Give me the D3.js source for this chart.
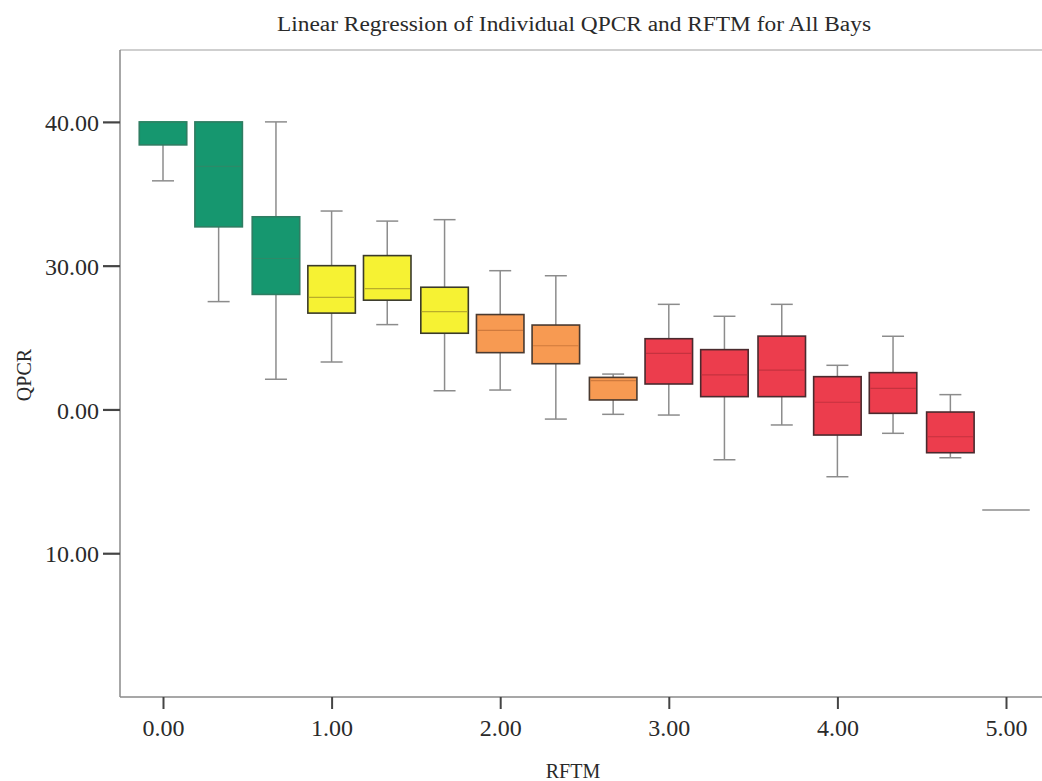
<!DOCTYPE html>
<html>
<head>
<meta charset="utf-8">
<script src="https://cdn.jsdelivr.net/npm/d3@7/dist/d3.min.js"></script>
<style>
  html, body { margin: 0; padding: 0; background: #ffffff; }
  svg { display: block; }
  text { font-family: "Liberation Serif", "DejaVu Serif", serif; fill: #2a2a2a; }
</style>
</head>
<body>
<svg id="chart" width="1042" height="781"></svg>
<script>
// RFTM category for each box
const rftm = [0.00, 0.33, 0.67, 1.00, 1.33, 1.67, 2.00, 2.33, 2.67, 3.00, 3.33, 3.67, 4.00, 4.33, 4.67, 5.00];
// QPCR five-number summaries per RFTM category
const qMin    = [35.9, 27.5, 22.1, 23.3, 25.9, 21.3, 21.35, 19.33, 19.66, 19.61, 16.5, 18.92, 15.32, 18.34, 16.64, 13.0];
const qQ1     = [38.4, 32.7, 28.0, 26.7, 27.6, 25.3, 23.95, 23.18, 20.66, 21.77, 20.89, 20.89, 18.22, 19.73, 16.99, 13.0];
const qMedian = [40.0, 36.9, 30.5, 27.8, 28.4, 26.8, 25.5, 24.43, 22.0, 23.9, 22.4, 22.74, 20.5, 21.47, 18.1, 13.0];
const qQ3     = [40.0, 40.0, 33.4, 30.0, 30.7, 28.5, 26.6, 25.87, 22.23, 24.92, 24.16, 25.1, 22.28, 22.56, 19.82, 13.0];
const qMax    = [40.0, 40.0, 40.0, 33.8, 33.1, 33.2, 29.65, 29.3, 22.46, 27.31, 26.48, 27.31, 23.07, 25.09, 21.03, 13.0];
// colour group of each box
const group   = ["g","g","g","y","y","y","o","o","o","r","r","r","r","r","r","n"];

// axis ticks and their printed labels
const xTicks = [0, 1, 2, 3, 4, 5];
const xTickLabels = ["0.00", "1.00", "2.00", "3.00", "4.00", "5.00"];
const yTicks = [10, 20, 30, 40];
const yTickLabels = ["10.00", "0.00", "30.00", "40.00"];

const fills   = { g: "#16976f", y: "#f6f233", o: "#f79a52", r: "#ec3d4d" };
const strokes = { g: "#2f7d62", y: "#3a3a2a", o: "#4a3a30", r: "#4a2a2e" };
const medians = { g: "#2c8a68", y: "#b9ad2a", o: "#cf7a3d", r: "#c5323f" };

const svg = d3.select("#chart");
const plotL = 120, plotT = 50, plotB = 697, plotR = 1042;

const x = d3.scaleLinear().domain([0, 5]).range([163, 1006]);
const y = d3.scaleLinear().domain([0, 45]).range([plotB, plotT]);
const boxW = 47.5, capW = 22;

// title
svg.append("text")
  .attr("x", 574).attr("y", 31)
  .attr("text-anchor", "middle")
  .attr("font-size", 20)
  .attr("textLength", 594).attr("lengthAdjust", "spacingAndGlyphs")
  .text("Linear Regression of Individual QPCR and RFTM for All Bays");

// frame line along the top
svg.append("line").attr("x1", plotL).attr("x2", plotR).attr("y1", plotT).attr("y2", plotT)
  .attr("stroke", "#a0a0a0").attr("stroke-width", 1.2);

// y axis
const yAxis = d3.axisLeft(y).tickValues(yTicks)
  .tickFormat((d, i) => yTickLabels[i]).tickSize(17).tickPadding(4);
const gy = svg.append("g").attr("transform", `translate(${plotL},0)`).call(yAxis);
gy.select(".domain").attr("d", `M0,${plotT}V${plotB}`).attr("stroke", "#8a8a8a").attr("stroke-width", 1.5);
gy.selectAll(".tick line").attr("stroke", "#444").attr("stroke-width", 2.2);
gy.selectAll(".tick text").attr("font-size", 24).attr("font-family", "Liberation Serif, serif")
  .attr("fill", "#2a2a2a").attr("dy", "0.36em");

// x axis
const xAxis = d3.axisBottom(x).tickValues(xTicks)
  .tickFormat((d, i) => xTickLabels[i]).tickSize(12).tickPadding(10);
const gx = svg.append("g").attr("transform", `translate(0,${plotB})`).call(xAxis);
gx.select(".domain").attr("d", `M${plotL},0H${plotR}`).attr("stroke", "#8a8a8a").attr("stroke-width", 1.5);
gx.selectAll(".tick line").attr("stroke", "#444").attr("stroke-width", 2);
gx.selectAll(".tick text").attr("font-size", 24).attr("font-family", "Liberation Serif, serif")
  .attr("fill", "#2a2a2a").attr("dy", "0.71em");

// axis titles
svg.append("text")
  .attr("transform", "translate(31,375) rotate(-90)")
  .attr("text-anchor", "middle").attr("font-size", 20)
  .text("QPCR");
svg.append("text")
  .attr("x", 573).attr("y", 778)
  .attr("text-anchor", "middle").attr("font-size", 20)
  .text("RFTM");

// box plots
const boxes = rftm.map((v, i) => ({
  v, min: qMin[i], q1: qQ1[i], med: qMedian[i], q3: qQ3[i], max: qMax[i], g: group[i]
}));

const gb = svg.append("g");
boxes.forEach(b => {
  const cx = x(b.v);
  if (b.g === "n") {
    // single observation: median line only
    gb.append("line")
      .attr("x1", cx - boxW / 2).attr("x2", cx + boxW / 2)
      .attr("y1", y(b.med)).attr("y2", y(b.med))
      .attr("stroke", "#8c8c8c").attr("stroke-width", 1.5);
    return;
  }
  // whiskers with end caps
  const wh = [[b.q3, b.max], [b.q1, b.min]];
  wh.forEach(([from, to]) => {
    if (Math.abs(to - from) < 1e-6) return;
    gb.append("line")
      .attr("x1", cx).attr("x2", cx)
      .attr("y1", y(from)).attr("y2", y(to))
      .attr("stroke", "#8c8c8c").attr("stroke-width", 1.5);
    gb.append("line")
      .attr("x1", cx - capW / 2).attr("x2", cx + capW / 2)
      .attr("y1", y(to)).attr("y2", y(to))
      .attr("stroke", "#8c8c8c").attr("stroke-width", 1.5);
  });
  // box
  gb.append("rect")
    .attr("x", cx - boxW / 2).attr("width", boxW)
    .attr("y", y(b.q3)).attr("height", y(b.q1) - y(b.q3))
    .attr("fill", fills[b.g])
    .attr("stroke", strokes[b.g]).attr("stroke-width", 1.6);
  // median
  gb.append("line")
    .attr("x1", cx - boxW / 2 + 1).attr("x2", cx + boxW / 2 - 1)
    .attr("y1", y(b.med)).attr("y2", y(b.med))
    .attr("stroke", medians[b.g]).attr("stroke-width", 1.2);
});
</script>
</body>
</html>
